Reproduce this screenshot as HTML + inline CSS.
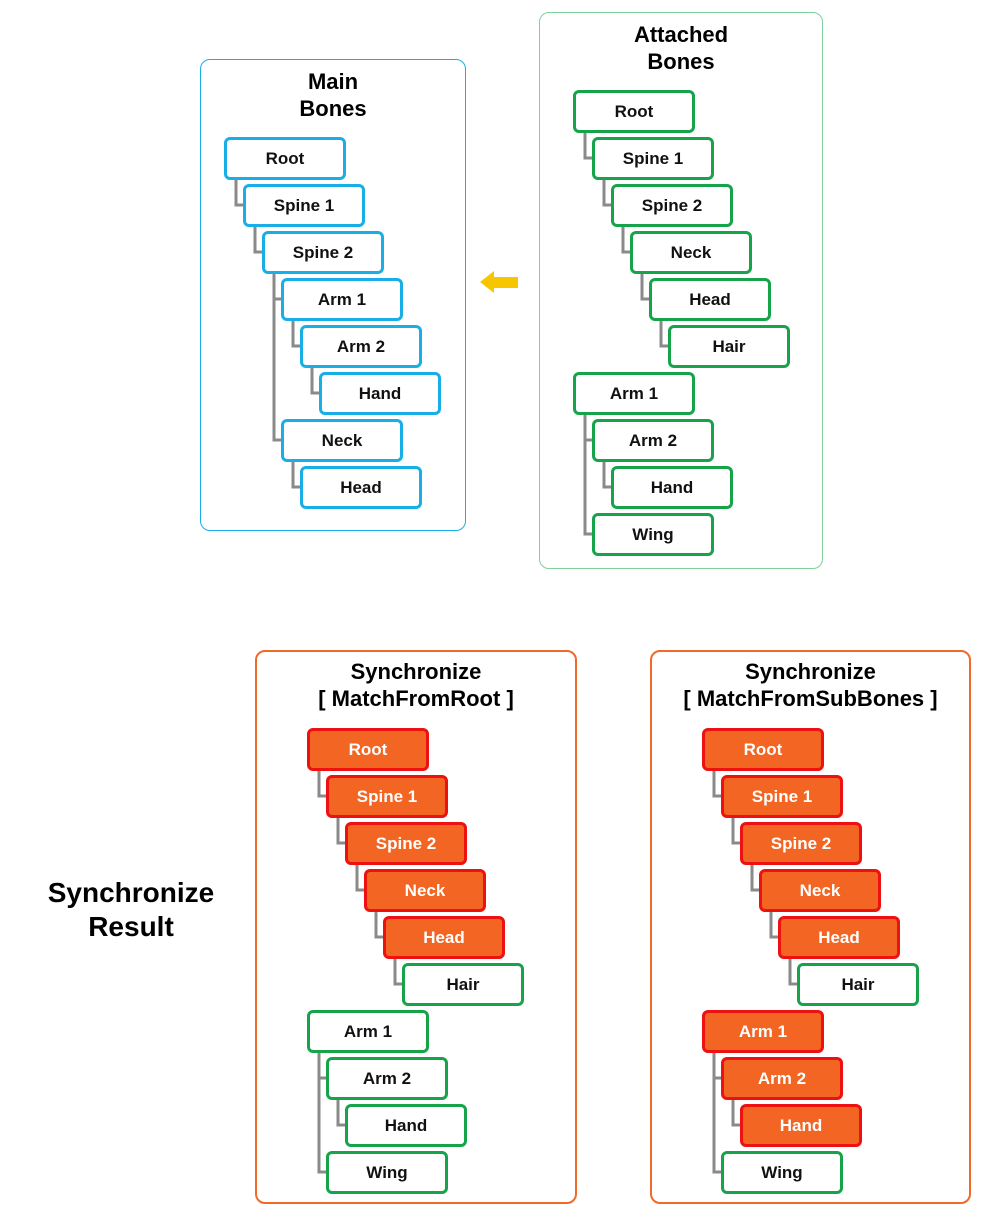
<!DOCTYPE html>
<html><head><meta charset="utf-8"><style>
body{margin:0;width:1000px;height:1226px;background:#fff;position:relative;font-family:"Liberation Sans",sans-serif;overflow:hidden}
.p{position:absolute;box-sizing:border-box;border-radius:10px}
.t{position:absolute;text-align:center;font-weight:bold;font-size:22px;line-height:27px;color:#000}
.b{position:absolute;box-sizing:border-box;width:122px;height:43px;border:3px solid;border-radius:6px;background:#fff;font-weight:bold;font-size:17px;line-height:37px;text-align:center;color:#111}
.bl{border-color:#1aaee6}.g{border-color:#17a34a}.r{border-color:#ee1111;background:#f26522;color:#fff}
svg{position:absolute;left:0;top:0}
</style></head><body>
<svg width="1000" height="1226"><g fill="none" stroke="#8a8a8a" stroke-width="3">
<path d="M236 180V205H243M255 227V252H262M274 274V299H281M274 274V440H281M293 321V346H300M312 368V393H319M293 462V487H300"/>
<path d="M585 133V158H592M604 180V205H611M623 227V252H630M642 274V299H649M661 321V346H668M585 415V440H592M585 415V534H592M604 462V487H611"/>
<path d="M319 771V796H326M338 818V843H345M357 865V890H364M376 912V937H383M395 959V984H402M319 1053V1078H326M319 1053V1172H326M338 1100V1125H345"/>
<path d="M714 771V796H721M733 818V843H740M752 865V890H759M771 912V937H778M790 959V984H797M714 1053V1078H721M714 1053V1172H721M733 1100V1125H740"/>
</g>
<polygon points="480,282 494,271 494,277 518,277 518,288 494,288 494,293" fill="#f7c600"/>
</svg>
<div class="p" style="left:200px;top:59px;width:266px;height:472px;border:1.5px solid #1aaee6"></div>
<div class="t" style="left:200px;top:68px;width:266px">Main<br>Bones</div>
<div class="p" style="left:539px;top:12px;width:284px;height:557px;border:1.5px solid #7dd19b"></div>
<div class="t" style="left:539px;top:21px;width:284px">Attached<br>Bones</div>
<div class="p" style="left:255px;top:650px;width:322px;height:554px;border:2px solid #f06a2a"></div>
<div class="t" style="left:255px;top:658px;width:322px">Synchronize<br>[ MatchFromRoot ]</div>
<div class="p" style="left:650px;top:650px;width:321px;height:554px;border:2px solid #f06a2a"></div>
<div class="t" style="left:650px;top:658px;width:321px">Synchronize<br>[ MatchFromSubBones ]</div>
<div class="t" style="left:20px;top:876px;width:222px;font-size:28px;line-height:34px">Synchronize<br>Result</div>

<div class="b bl" style="left:224px;top:137px">Root</div>
<div class="b bl" style="left:243px;top:184px">Spine 1</div>
<div class="b bl" style="left:262px;top:231px">Spine 2</div>
<div class="b bl" style="left:281px;top:278px">Arm 1</div>
<div class="b bl" style="left:300px;top:325px">Arm 2</div>
<div class="b bl" style="left:319px;top:372px">Hand</div>
<div class="b bl" style="left:281px;top:419px">Neck</div>
<div class="b bl" style="left:300px;top:466px">Head</div>

<div class="b g" style="left:573px;top:90px">Root</div>
<div class="b g" style="left:592px;top:137px">Spine 1</div>
<div class="b g" style="left:611px;top:184px">Spine 2</div>
<div class="b g" style="left:630px;top:231px">Neck</div>
<div class="b g" style="left:649px;top:278px">Head</div>
<div class="b g" style="left:668px;top:325px">Hair</div>
<div class="b g" style="left:573px;top:372px">Arm 1</div>
<div class="b g" style="left:592px;top:419px">Arm 2</div>
<div class="b g" style="left:611px;top:466px">Hand</div>
<div class="b g" style="left:592px;top:513px">Wing</div>

<div class="b r" style="left:307px;top:728px">Root</div>
<div class="b r" style="left:326px;top:775px">Spine 1</div>
<div class="b r" style="left:345px;top:822px">Spine 2</div>
<div class="b r" style="left:364px;top:869px">Neck</div>
<div class="b r" style="left:383px;top:916px">Head</div>
<div class="b g" style="left:402px;top:963px">Hair</div>
<div class="b g" style="left:307px;top:1010px">Arm 1</div>
<div class="b g" style="left:326px;top:1057px">Arm 2</div>
<div class="b g" style="left:345px;top:1104px">Hand</div>
<div class="b g" style="left:326px;top:1151px">Wing</div>

<div class="b r" style="left:702px;top:728px">Root</div>
<div class="b r" style="left:721px;top:775px">Spine 1</div>
<div class="b r" style="left:740px;top:822px">Spine 2</div>
<div class="b r" style="left:759px;top:869px">Neck</div>
<div class="b r" style="left:778px;top:916px">Head</div>
<div class="b g" style="left:797px;top:963px">Hair</div>
<div class="b r" style="left:702px;top:1010px">Arm 1</div>
<div class="b r" style="left:721px;top:1057px">Arm 2</div>
<div class="b r" style="left:740px;top:1104px">Hand</div>
<div class="b g" style="left:721px;top:1151px">Wing</div>
</body></html>
